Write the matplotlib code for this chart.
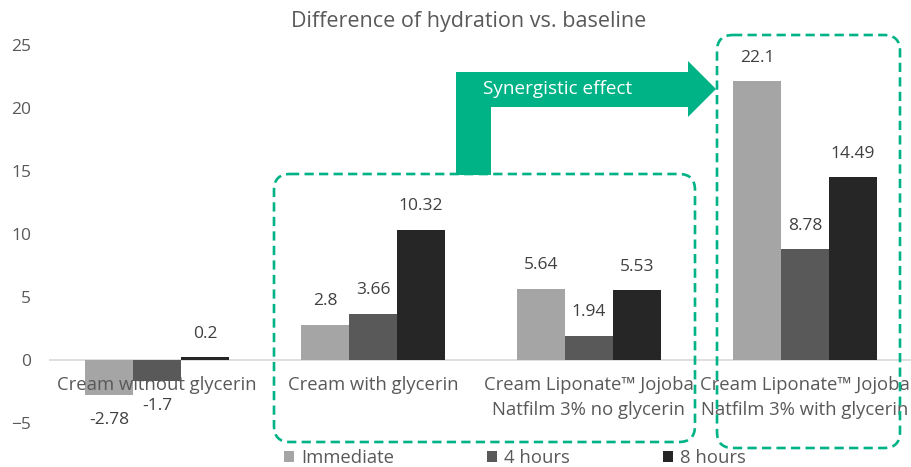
import numpy as np
import matplotlib.pyplot as plt
from matplotlib.patches import FancyBboxPatch, Polygon
from matplotlib.transforms import Affine2D

categories = ["Cream without glycerin", "Cream with glycerin",
              "Cream Liponate\u2122 Jojoba\nNatfilm 3% no glycerin",
              "Cream Liponate\u2122 Jojoba\nNatfilm 3% with glycerin"]
series = ["Immediate", "4 hours", "8 hours"]
immediate = [-2.78, 2.8, 5.64, 22.1]
hours4 = [-1.7, 3.66, 1.94, 8.78]
hours8 = [0.2, 10.32, 5.53, 14.49]
colors = ["#a5a5a5", "#595959", "#262626"]
green = "#00b386"

plt.rcParams['font.family'] = ['Open Sans', 'DejaVu Sans']

fig = plt.figure(figsize=(9.11, 4.67), dpi=100)
ax = fig.add_axes([49 / 911, 0.0403, 864 / 911, 0.877])

x = np.arange(len(categories))
w = 0.222
for i, (vals, c, name) in enumerate(zip([immediate, hours4, hours8], colors, series)):
    bars = ax.bar(x + (i - 1) * w, vals, w, color=c, label=name)
    for b, v in zip(bars, vals):
        off = 17 if v >= 0 else -18
        ax.annotate(f"{v:g}", (b.get_x() + b.get_width() / 2, v),
                    xytext=(0, off), textcoords="offset points",
                    ha="center", va="center", fontsize=12.5, color="#404040")

ax.axhline(0, color="#d9d9d9", lw=1.2, zorder=0)
for xi, cat in zip(x, categories):
    ax.text(xi, -1.25, cat, ha="center", va="top", fontsize=13.3,
            color="#595959", linespacing=1.55)

ax.set_xlim(-0.5, 3.5)
ax.set_ylim(-7, 25.5)
ax.set_yticks(range(-5, 26, 5))
ax.set_xticks([])
ax.tick_params(axis="y", length=0, pad=13, labelsize=12.5, labelcolor="#595959")
for s in ax.spines.values():
    s.set_visible(False)

fig.text(469 / 911, 1 - 21 / 467, "Difference of hydration vs. baseline",
         ha="center", va="center", fontsize=15.5, color="#595959")

# pixel coordinates measured from the top-left corner
pix = Affine2D().scale(1 / 100).scale(1, -1).translate(0, 4.67) + fig.dpi_scale_trans
for (x0, y0, x1, y1) in [(274, 174, 695, 442), (717, 35, 900, 448)]:
    box = FancyBboxPatch((x0, y0), x1 - x0, y1 - y0,
                         boxstyle="round,pad=0,rounding_size=16",
                         transform=pix, fill=False, edgecolor=green,
                         lw=1.9, linestyle=(0, (3.5, 2)), clip_on=False)
    fig.patches.append(box)

arrow = Polygon([(456, 175), (456, 72), (688, 72), (688, 61), (716, 89),
                 (688, 117), (688, 107), (491, 107), (491, 175)],
                closed=True, transform=pix, facecolor=green, edgecolor="none")
fig.patches.append(arrow)
fig.text(558 / 911, 1 - 89 / 467, "Synergistic effect", ha="center", va="center",
         fontsize=13.6, color="white")

fig.legend(loc="center", bbox_to_anchor=(515 / 911, 1 - 458 / 467), ncol=3,
           frameon=False, fontsize=13.3, handlelength=0.55, handleheight=0.55,
           handletextpad=0.4, columnspacing=5.0, labelcolor="#595959")

fig.savefig("out.png", dpi=100)
